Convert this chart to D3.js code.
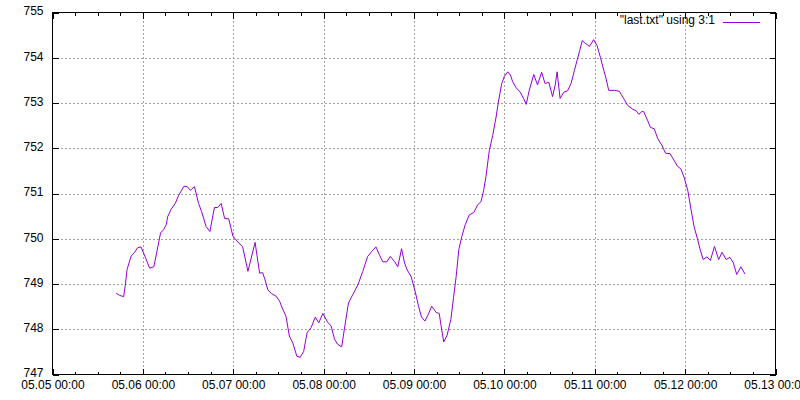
<!DOCTYPE html>
<html>
<head>
<meta charset="utf-8">
<script src="https://cdn.jsdelivr.net/npm/d3@7/dist/d3.min.js"></script>
<style>
    body { margin: 0; background: #fff; }
    svg { display: block; font-family: "Liberation Sans", Arial, sans-serif; font-size: 12px; }
</style>
</head>
<body>
<script>
// hours since 05.05 00:00
var hours = [16.9, 17.8, 18.9, 19.3, 19.8, 20.9, 21.8, 22.6, 23.5, 24.6, 25.8, 26.9, 27.5, 28.7,
             29.5, 30.2, 30.6, 31.5, 32.6, 33.5, 34.9, 35.8, 36.6, 37.7, 38.8, 39.6, 40.8, 41.8,
             43.0, 43.9, 44.8, 45.7, 46.8, 47.9, 49.0, 50.5, 51.9, 53.8, 55.0, 55.8, 56.3, 57.2,
             58.1, 59.4, 60.3, 61.1, 62.0, 62.9, 63.8, 64.9, 65.8, 66.7, 67.6, 68.7, 69.8, 70.7,
             71.8, 73.1, 74.0, 74.9, 75.7, 76.8, 77.5, 78.6, 79.7, 81.1, 82.4, 83.7, 84.8, 85.9,
             86.8, 87.7, 88.8, 89.7, 90.8, 91.7, 92.7, 93.5, 94.2, 95.2, 96.3, 97.2, 98.0, 98.9,
             99.8, 100.7, 101.9, 102.7, 103.2, 103.9, 104.8, 105.8, 106.5, 107.2, 107.9, 108.7,
             109.6, 110.7, 111.9, 112.9, 113.8, 114.5, 115.1, 116.0, 116.9, 117.8, 118.4, 119.3,
             120.0, 120.9, 121.6, 122.2, 123.1, 124.2, 125.1, 125.8, 126.6, 127.8, 128.8, 129.9,
             130.8, 131.8, 132.8, 133.5, 134.0, 134.8, 135.8, 136.8, 137.7, 138.6, 139.3, 140.0,
             140.7, 141.2, 142.6, 143.7, 144.6, 145.5, 146.4, 147.0, 147.7, 149.2, 150.5, 151.1,
             151.9, 152.7, 154.1, 155.0, 155.7, 156.5, 157.0, 158.0, 158.8, 159.8, 160.7, 161.8,
             162.8, 164.0, 165.0, 166.0, 166.9, 167.8, 168.7, 169.6, 170.4, 171.3, 172.0, 172.8,
             173.8, 174.7, 175.8, 176.9, 177.8, 178.9, 179.9, 180.8, 181.7, 182.8, 183.9];

var values = [748.80, 748.75, 748.72, 748.95, 749.32, 749.62, 749.70, 749.80, 749.82, 749.60, 749.35,
              749.38, 749.62, 750.13, 750.20, 750.31, 750.49, 750.65, 750.78, 750.96, 751.16, 751.15,
              751.07, 751.15, 750.78, 750.60, 750.27, 750.16, 750.69, 750.69, 750.78, 750.45, 750.44,
              750.06, 749.95, 749.82, 749.28, 749.92, 749.24, 749.25, 749.13, 748.87, 748.79, 748.73,
              748.62, 748.45, 748.29, 747.85, 747.70, 747.40, 747.38, 747.51, 747.92, 748.04, 748.27,
              748.14, 748.35, 748.15, 748.07, 747.78, 747.67, 747.61, 748.00, 748.58, 748.76, 748.98,
              749.28, 749.61, 749.72, 749.82, 749.65, 749.49, 749.49, 749.61, 749.50, 749.38, 749.78,
              749.46, 749.31, 749.17, 748.84, 748.51, 748.27, 748.18, 748.33, 748.51, 748.37, 748.35,
              748.07, 747.72, 747.87, 748.22, 748.70, 749.17, 749.76, 750.05, 750.31, 750.53, 750.58,
              750.75, 750.82, 751.07, 751.37, 751.95, 752.28, 752.69, 753.02, 753.43, 753.59, 753.69,
              753.62, 753.47, 753.34, 753.24, 753.10, 752.97, 753.28, 753.63, 753.40, 753.68, 753.43,
              753.46, 753.14, 753.40, 753.69, 753.10, 753.24, 753.27, 753.43, 753.72, 753.94, 754.16,
              754.38, 754.34, 754.25, 754.40, 754.27, 754.01, 753.72, 753.54, 753.28, 753.28, 753.26,
              753.18, 753.07, 752.95, 752.86, 752.83, 752.75, 752.81, 752.81, 752.62, 752.46, 752.43,
              752.22, 752.07, 751.89, 751.88, 751.74, 751.60, 751.54, 751.34, 751.07, 750.63, 750.26,
              749.99, 749.76, 749.54, 749.60, 749.52, 749.83, 749.54, 749.70, 749.54, 749.59, 749.47,
              749.21, 749.38, 749.22];

var yTicks = [747, 748, 749, 750, 751, 752, 753, 754, 755];
var legendLabel = "\"last.txt\" using 3:1";

(function() {
    var width = 800,
        height = 400,
        left = 52.5,
        right = 775.5,
        top = 12.5,
        bottom = 374.5,
        lineColor = "#9400d3",
        gridColor = "#a0a0a0",
        start = new Date(Date.UTC(2000, 4, 5)),
        end = new Date(Date.UTC(2000, 4, 13));

    var data = hours.map(function(h, i) {
        return {t : new Date(start.getTime() + h * 3600000), v : values[i]};
    });

    var x = d3.scaleUtc().domain([start, end]).range([left, right]);
    var y = d3.scaleLinear().domain([747, 755]).range([bottom, top]);

    var svg = d3.select("body").append("svg")
                .attr("width", width)
                .attr("height", height);

    var dayTicks = d3.utcDay.range(start, d3.utcDay.offset(end, 1)),
        sixHours = d3.utcHour.every(6).range(start, end).filter(function(d) { return d.getUTCHours() !== 0; }),
        fmt = d3.utcFormat("%m.%d %H:%M");

    // grid
    var grid = svg.append("g")
                  .attr("stroke", gridColor)
                  .attr("stroke-dasharray", "2,2")
                  .attr("shape-rendering", "crispEdges");

    grid.selectAll(".vgrid")
        .data(dayTicks.slice(1, -1))
        .enter().append("line")
        .attr("class", "vgrid")
        .attr("x1", function(d) { return Math.round(x(d)) + 0.5; })
        .attr("x2", function(d) { return Math.round(x(d)) + 0.5; })
        .attr("y1", top)
        .attr("y2", bottom);

    grid.selectAll(".hgrid")
        .data(yTicks.slice(1, -1))
        .enter().append("line")
        .attr("class", "hgrid")
        .attr("x1", left)
        .attr("x2", right)
        .attr("y1", function(d) { return Math.round(y(d)) + 0.5; })
        .attr("y2", function(d) { return Math.round(y(d)) + 0.5; });

    // axes, ticks pointing inward like gnuplot
    var xBottom = d3.axisBottom(x).tickValues(dayTicks).tickSize(-6).tickPadding(5.5).tickFormat(fmt),
        xTop = d3.axisTop(x).tickValues(dayTicks).tickSize(-6).tickFormat(""),
        xMinorB = d3.axisBottom(x).tickValues(sixHours).tickSize(-3).tickFormat(""),
        xMinorT = d3.axisTop(x).tickValues(sixHours).tickSize(-3).tickFormat(""),
        yLeft = d3.axisLeft(y).tickValues(yTicks).tickSize(-6).tickPadding(9).tickFormat(d3.format("d")),
        yRight = d3.axisRight(y).tickValues(yTicks).tickSize(-6).tickFormat("");

    [[xBottom, 0, bottom], [xMinorB, 0, bottom], [xTop, 0, top], [xMinorT, 0, top],
     [yLeft, left, 0], [yRight, right, 0]].forEach(function(a) {
        var g = svg.append("g")
                   .attr("transform", "translate(" + a[1] + "," + a[2] + ")")
                   .attr("shape-rendering", "crispEdges")
                   .call(a[0]);
        g.select(".domain").remove();
        g.selectAll("text")
         .attr("fill", "#000")
         .style("font-size", "12px")
         .style("font-family", "'Liberation Sans', Arial, sans-serif");
    });

    svg.selectAll("text").filter(function() { return this.getAttribute("dy") === "0.32em"; })
       .attr("dy", "0.2em");

    // border
    svg.append("rect")
       .attr("x", left)
       .attr("y", top)
       .attr("width", right - left)
       .attr("height", bottom - top)
       .attr("fill", "none")
       .attr("stroke", "#000")
       .attr("shape-rendering", "crispEdges");

    // series
    var line = d3.line()
                 .x(function(d) { return x(d.t); })
                 .y(function(d) { return y(d.v); });

    svg.append("path")
       .datum(data)
       .attr("d", line)
       .attr("fill", "none")
       .attr("stroke", lineColor)
       .attr("stroke-width", 1);

    // key
    svg.append("text")
       .attr("x", 715)
       .attr("y", 24)
       .attr("text-anchor", "end")
       .text(legendLabel);

    svg.append("line")
       .attr("x1", 723)
       .attr("x2", 760)
       .attr("y1", 22.5)
       .attr("y2", 22.5)
       .attr("stroke", lineColor)
       .attr("shape-rendering", "crispEdges");
})();
</script>
</body>
</html>
